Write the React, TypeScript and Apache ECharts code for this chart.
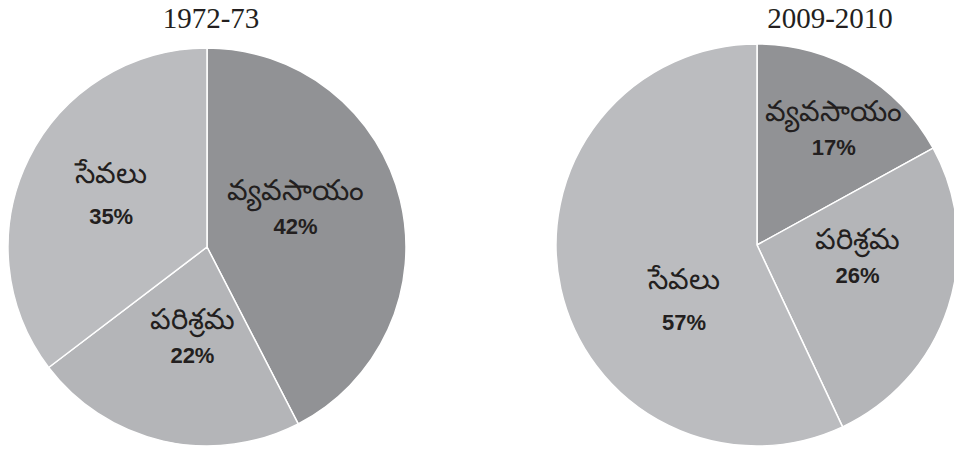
import React, { useEffect, useRef } from "react";
import * as echarts from "echarts";

const categories = ["వ్యవసాయం", "పరిశ్రమ", "సేవలు"];
const values1972 = [42, 22, 35];
const values2009 = [17, 26, 57];
const titles = ["1972-73", "2009-2010"];

const sliceColors = ["#919295", "#b4b5b8", "#bbbcbf"];
const offsets1972: number[][] = [[-11, -15], [8, -10], [-4, -7]];
const offsets2009: number[][] = [[24, -27], [2, -20], [28, 32]];

function buildData(values: number[], offs: number[][]) {
  return categories.map((name, i) => ({
    name,
    value: values[i],
    itemStyle: { color: sliceColors[i] },
    label: { offset: offs[i] },
  }));
}

function pieSeries(values: number[], offs: number[][], center: number[], radius: number) {
  return {
    type: "pie",
    center,
    radius,
    startAngle: 90,
    clockwise: true,
    silent: true,
    itemStyle: { borderColor: "#ffffff", borderWidth: 1.5 },
    label: {
      show: true,
      position: "inside",
      formatter: (p: any) => {
        const wide = p.dataIndex === 2;
        return wide
          ? `{nw|${p.name}}\n{pw|${p.value}%}`
          : `{n|${p.name}}\n{p|${p.value}%}`;
      },
      rich: {
        n: { fontSize: 29, fontFamily: "Noto Sans", color: "#231f20", lineHeight: 38 },
        p: { fontSize: 22, fontWeight: "bold", fontFamily: "Liberation Sans", color: "#231f20", lineHeight: 38 },
        nw: { fontSize: 29, fontFamily: "Noto Sans", color: "#231f20", lineHeight: 45 },
        pw: { fontSize: 22, fontWeight: "bold", fontFamily: "Liberation Sans", color: "#231f20", lineHeight: 45 },
      },
    },
    labelLine: { show: false },
    emphasis: { disabled: true },
    data: buildData(values, offs),
  };
}

export default function App() {
  const ref = useRef<HTMLDivElement>(null);
  useEffect(() => {
    if (!ref.current) return;
    const chart = echarts.init(ref.current, undefined, { renderer: "svg" });
    chart.setOption({
      animation: false,
      backgroundColor: "#ffffff",
      graphic: [
        {
          type: "text",
          x: 211,
          y: 18,
          style: {
            text: titles[0],
            font: '29px "Liberation Serif"',
            fill: "#231f20",
            textAlign: "center",
            textVerticalAlign: "middle",
          },
        },
        {
          type: "text",
          x: 830,
          y: 18,
          style: {
            text: titles[1],
            font: '29px "Liberation Serif"',
            fill: "#231f20",
            textAlign: "center",
            textVerticalAlign: "middle",
          },
        },
      ],
      series: [
        pieSeries(values1972, offsets1972, [207, 247], 199),
        pieSeries(values2009, offsets2009, [757, 245], 201),
      ],
    });
    return () => chart.dispose();
  }, []);
  return (
    <div
      ref={ref}
      style={{ position: "absolute", left: 0, top: 0, width: 954, height: 450 }}
    />
  );
}
